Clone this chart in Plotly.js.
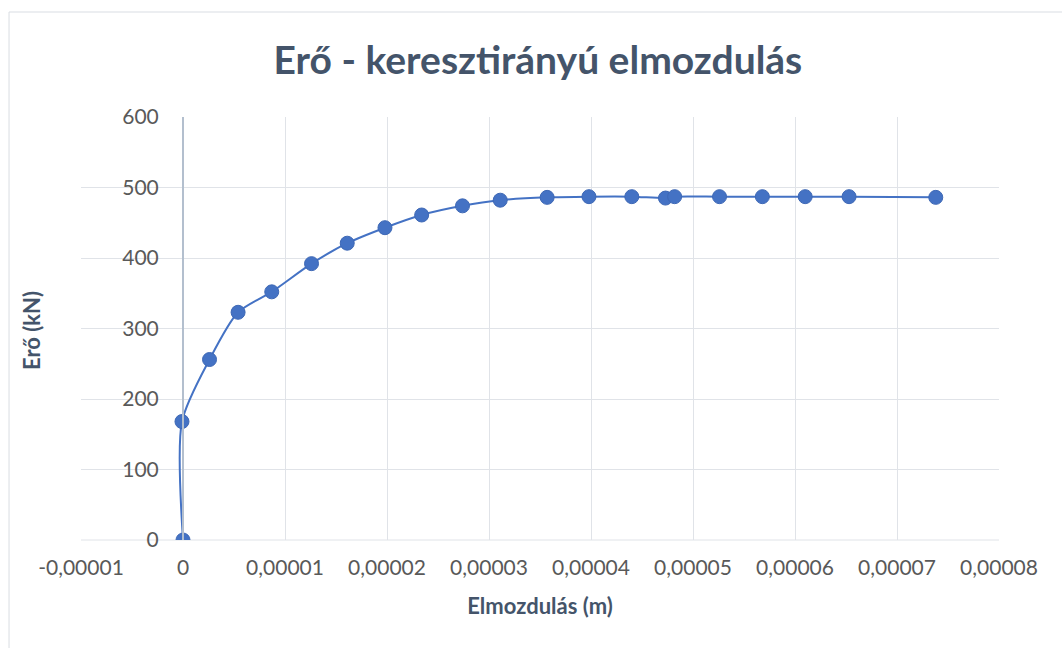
<!DOCTYPE html>
<html>
<head>
<meta charset="utf-8">
<script src="https://cdn.plot.ly/plotly-3.0.1.min.js"></script>
<style>html,body{margin:0;padding:0;background:#fff;}#chart{width:1062px;height:648px;}</style>
</head>
<body>
<div id="chart"></div>
<script>
// Elmozdulás (m)
const displacement = [0, -0.0000001, 0.0000026, 0.0000054, 0.0000087, 0.0000126, 0.0000161, 0.0000198, 0.0000234, 0.0000274, 0.0000311, 0.0000357, 0.0000398, 0.0000440, 0.0000473, 0.0000482, 0.0000526, 0.0000568, 0.0000610, 0.0000653, 0.0000738];
// Erő (kN)
const force = [0, 168, 256, 323, 352, 392, 421, 443, 461, 474, 482, 486, 487, 487, 485, 487, 487, 487, 487, 487, 486];

const xTickVals = [-0.00001, 0, 0.00001, 0.00002, 0.00003, 0.00004, 0.00005, 0.00006, 0.00007, 0.00008];
const xTickText = ["-0,00001", "0", "0,00001", "0,00002", "0,00003", "0,00004", "0,00005", "0,00006", "0,00007", "0,00008"];
const yTickVals = [0, 100, 200, 300, 400, 500, 600];

const titleText = "Erő - keresztirányú elmozdulás";
const xTitle = "Elmozdulás (m)";
const yTitle = "Erő (kN)";

const FONT = "Lato, 'Open Sans', sans-serif";
const titleColor = "#44546A";
const tickColor = "#595959";
const gridColor = "#E0E3E8";

const trace = {
  x: displacement,
  y: force,
  type: "scatter",
  mode: "lines+markers",
  line: {color: "#4472C4", width: 2, shape: "spline", smoothing: 0.75},
  marker: {color: "#4472C4", size: 14, line: {color: "#3E68B5", width: 1}},
  hoverinfo: "x+y"
};

const layout = {
  width: 1062,
  height: 648,
  margin: {l: 81, r: 63, t: 117, b: 108},
  paper_bgcolor: "#ffffff",
  plot_bgcolor: "#ffffff",
  showlegend: false,
  separators: ",.",
  font: {family: FONT, color: tickColor},
  title: {
    text: "<b>" + titleText + "</b>",
    font: {family: FONT, size: 39, color: titleColor},
    x: 0.5065, xanchor: "center",
    y: 1 - 60 / 648, yanchor: "middle", yref: "container"
  },
  xaxis: {
    range: [-0.00001, 0.00008],
    tickmode: "array",
    tickvals: xTickVals,
    ticktext: xTickText,
    tickfont: {family: FONT, size: 21, color: tickColor},
    showgrid: true,
    gridcolor: gridColor,
    gridwidth: 1,
    zeroline: false,
    showline: false,
    ticks: "",
    ticklabelstandoff: 13,
    title: {text: "<b>" + xTitle + "</b>", font: {family: FONT, size: 22, color: titleColor}, standoff: 20}
  },
  yaxis: {
    range: [0, 600],
    tickmode: "array",
    tickvals: yTickVals,
    tickfont: {family: FONT, size: 21, color: tickColor},
    showgrid: true,
    gridcolor: gridColor,
    gridwidth: 1,
    zeroline: false,
    showline: true,
    linecolor: "#B3BFCE",
    linewidth: 2,
    ticks: "",
    anchor: "free",
    position: 1 / 9,
    ticklabelstandoff: 19,
    title: {text: ""}
  },
  shapes: [
    {type: "rect", xref: "paper", yref: "paper", x0: -0.0784, x1: 1.1, y0: -0.3, y1: (540 - 12) / 423,
     line: {color: "#D9DDE3", width: 1}, fillcolor: "rgba(0,0,0,0)", layer: "below"},
    {type: "line", xref: "paper", yref: "paper", x0: 0, x1: 1, y0: 0, y1: 0,
     line: {color: gridColor, width: 1}, layer: "below"}
  ],
  annotations: [
    {text: "<b>" + yTitle + "</b>", xref: "paper", yref: "paper", x: (31 - 81) / 918, y: (540 - 331) / 423,
     xanchor: "center", yanchor: "middle", textangle: -90, showarrow: false,
     font: {family: FONT, size: 22, color: titleColor}}
  ]
};

Plotly.newPlot("chart", [trace], layout, {displayModeBar: false, staticPlot: true});
</script>
</body>
</html>
